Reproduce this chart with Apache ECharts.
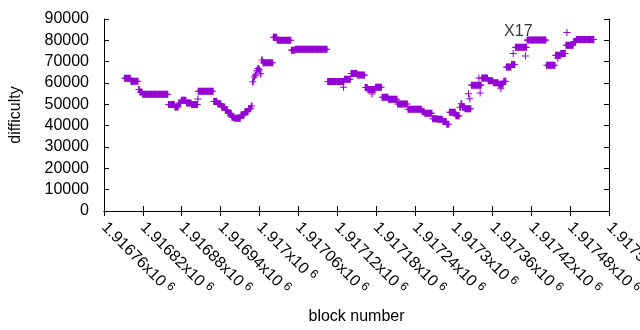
<!DOCTYPE html>
<html><head><meta charset="utf-8">
<script src="https://cdn.jsdelivr.net/npm/echarts@6/dist/echarts.min.js"></script>
<style>html,body{margin:0;padding:0;background:#fff}#c{width:640px;height:330px}</style>
</head><body><div id="c"></div>
<script>
// ---- data ----
const xTickLabels = ['1.91676','1.91682','1.91688','1.91694','1.917','1.91706','1.91712',
  '1.91718','1.91724','1.9173','1.91736','1.91742','1.91748','1.91754'];
const xMin = 1916760, xMax = 1917540, xStep = 60;
const yTickLabels = ['0','10000','20000','30000','40000','50000','60000','70000','80000','90000'];
const yMin = 0, yMax = 90000, yStep = 10000;

// block numbers of the main series: firstBlock, firstBlock+2, ...
const firstBlock = 1916792, blockStep = 2;
const difficulty = [
  62200,62200,62200,62200,62200,
  60800,60800,60800,60800,60800,60800,
  57000,
  55800,55800,
  54700,54700,54700,54700,54700,54700,54700,54700,54700,54700,54700,54700,54700,54700,54700,54700,54700,54700,54700,54700,
  49900,49900,49900,49900,49900,
  48800,48800,48800,
  50650,50650,
  51900,51900,51900,51900,
  50650,50650,50650,50650,
  49900,49900,49900,49900,49900,
  56100,56100,56100,56100,56100,56100,56100,56100,56100,56100,56100,56100,
  51350,51350,51350,
  50250,50250,50250,
  48750,48750,48750,
  47350,47350,
  45800,45800,45800,
  44000,44000,
  43500,43500,43500,43500,43500,
  45000,45000,45000,
  46500,46500,46500,
  48000,48000,
  49250,
  60600,62800,63700,65700,66800,66200,64300,70750,
  69450,69450,69450,69450,69450,69450,69450,69450,
  81400,81400,81400,
  80000,80000,80000,80000,80000,80000,80000,80000,80000,80000,80000,
  75400,75400,75400,
  75800,75800,75800,75800,75800,75800,75800,75800,75800,75800,75800,75800,75800,75800,75800,75800,75800,75800,75800,75800,75800,75800,75800,75800,75800,
  60700,60700,60700,60700,60700,60700,60700,60700,60700,60700,60700,60700,60700,
  61800,61800,61800,61800,61800,
  64500,64500,64500,64500,64500,
  63700,63700,63700,63700,63700,63700,
  57900,57900,
  57000,57000,57000,57000,57000,57000,
  58000,58000,58000,58000,58000,
  53300,53300,53300,53300,53300,
  52350,52350,52350,52350,52350,52350,52350,
  50150,50150,50150,50150,50150,50150,50150,50150,
  47650,47650,47650,47650,47650,47650,47650,47650,47650,47650,47650,
  46500,46500,
  45800,45800,45800,45800,45800,45800,
  43200,43200,43200,43200,
  43000,43000,43000,43000,
  42000,42000,42000,
  40700,40700,
  46250,46250,46250,46250,46250,
  44600,44600,44600,
  48650,50250,48650,48650,
  47950,47950,47950,47950,47950,
  59000,59000,59000,59000,59000,59000,59000,59000,
  62300,62300,62300,62300,62300,
  61100,61100,61100,61100,
  60100,60100,60100,60100,
  59400,59400,59400,59400,
  60800,60800,
  67450,67450,67450,67450,
  68650,68650,68650,
  76700,76700,76700,76700,76700,76700,76700,76700,76700,
  80100,80100,80100,80100,80100,80100,80100,80100,80100,80100,80100,80100,80100,80100,80100,
  68350,68350,68350,68350,68350,68350,68350,
  72950,72950,72950,72950,
  73850,73850,73850,73850,
  77700,77700,77700,77700,77700,77700,
  79400,79400,
  80400,80400,80400,80400,80400,80400,80400,80400,80400,80400,80400,80400,80400,80400
];
// isolated blocks off the main runs
const outlierBlocks     = [1916905, 1917130, 1917174, 1917323, 1917325, 1917339, 1917341, 1917373, 1917392, 1917411, 1917461, 1917475];
const outlierDifficulty = [  52500,   58000,   54800,   55000,   52600,   62300,   55300,   57300,   73850,   72650,   71650,   83700];

const annotationText = 'X17';
const annotationBlock = 1917400, annotationDifficulty = 84000;

// ---- chart ----
const FONT = 'Liberation Sans, Arial, sans-serif';
const PURPLE = '#9400d3';
// dense runs: thicker vertical stroke so neighbouring marks merge into solid bands
const PLUS_RUN = 'path://M3,0H5V3.4H8V4.6H5V8H3V4.6H0V3.4H3Z';
// isolated marks: thin cross
const PLUS_ONE = 'path://M3.4,0H4.6V3.4H8V4.6H4.6V8H3.4V4.6H0V3.4H3.4Z';

const mainData = difficulty.map((v, i) => [firstBlock + i * blockStep, v]);
const outlierData = outlierBlocks.map((b, i) => [b, outlierDifficulty[i]]);

const axisLineStyle = { show: true, lineStyle: { color: '#000', width: 1 } };
const tickStyle = { show: true, inside: true, length: 5, lineStyle: { color: '#000', width: 1 } };

const chart = echarts.init(document.getElementById('c'), null, { renderer: 'canvas' });
chart.setOption({
  animation: false,
  backgroundColor: '#fff',
  grid: { left: 104, right: 31, top: 19, bottom: 119, containLabel: false, outerBoundsMode: 'none' },
  xAxis: [
    {
      type: 'value', position: 'bottom', min: xMin, max: xMax, interval: xStep,
      axisLine: axisLineStyle, axisTick: tickStyle, splitLine: { show: false },
      axisLabel: {
        rotate: -45, margin: 14, color: '#000', fontFamily: FONT, fontSize: 16,
        showMinLabel: true, showMaxLabel: true,
        formatter: v => {
          const k = Math.round((v - xMin) / xStep);
          return '{m|' + xTickLabels[k] + 'x10}{s|6}';
        },
        rich: {
          m: { fontSize: 16, fontFamily: FONT, color: '#000' },
          s: { fontSize: 12, fontFamily: FONT, color: '#000', padding: [0, 0, 7, 4] }
        }
      },
      name: 'block number', nameLocation: 'middle', nameGap: 98,
      nameTextStyle: { fontSize: 16, fontFamily: FONT, color: '#000' }
    },
    {
      type: 'value', position: 'top', min: xMin, max: xMax, interval: xStep,
      axisLine: axisLineStyle, axisTick: tickStyle, axisLabel: { show: false }, splitLine: { show: false }
    }
  ],
  yAxis: [
    {
      type: 'value', position: 'left', min: yMin, max: yMax, interval: yStep,
      axisLine: axisLineStyle, axisTick: tickStyle, splitLine: { show: false },
      axisLabel: {
        margin: 15, color: '#000', fontFamily: FONT, fontSize: 16,
        formatter: v => yTickLabels[Math.round((v - yMin) / yStep)]
      },
      name: 'difficulty', nameLocation: 'middle', nameGap: 80, nameRotate: 90,
      nameTextStyle: { fontSize: 16, fontFamily: FONT, color: '#000' }
    },
    {
      type: 'value', position: 'right', min: yMin, max: yMax, interval: yStep,
      axisLine: axisLineStyle, axisTick: tickStyle, axisLabel: { show: false }, splitLine: { show: false }
    }
  ],
  series: [
    {
      type: 'scatter', xAxisIndex: 0, yAxisIndex: 0, data: mainData,
      symbol: PLUS_RUN, symbolSize: 7, itemStyle: { color: PURPLE, opacity: 1 }, silent: true
    },
    {
      type: 'scatter', xAxisIndex: 0, yAxisIndex: 0, data: outlierData,
      symbol: PLUS_ONE, symbolSize: 7, itemStyle: { color: PURPLE, opacity: 1 }, silent: true
    },
    {
      type: 'scatter', xAxisIndex: 0, yAxisIndex: 0,
      data: [[annotationBlock, annotationDifficulty]],
      symbolSize: 1, itemStyle: { color: 'rgba(0,0,0,0)' }, silent: true,
      label: { show: true, position: 'inside', formatter: annotationText,
        fontSize: 16, fontFamily: FONT, color: '#000' }
    }
  ]
});
</script>
</body></html>
